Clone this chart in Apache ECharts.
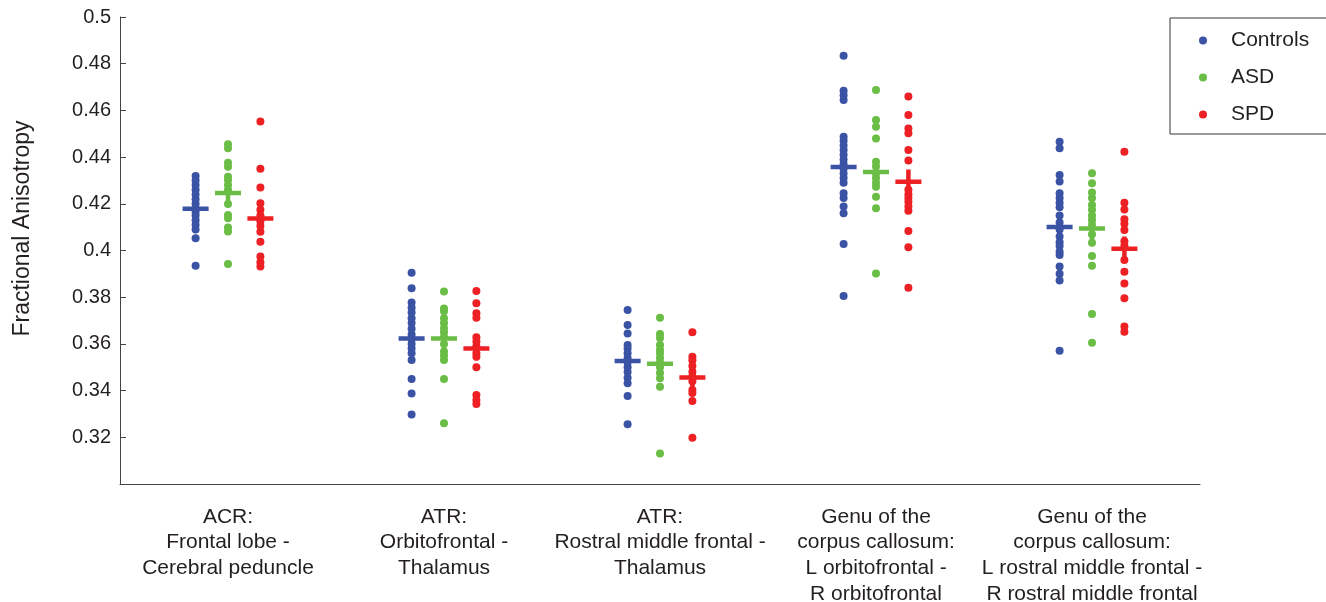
<!DOCTYPE html>
<html>
<head>
<meta charset="utf-8">
<script src="https://cdn.jsdelivr.net/npm/echarts@6/dist/echarts.min.js"></script>
<style>
html,body{margin:0;padding:0;background:#fff;}
#chart{width:1326px;height:602px;}
</style>
</head>
<body>
<div id="chart"></div>
<script>
const categories = [
  "ACR:\nFrontal lobe -\nCerebral peduncle",
  "ATR:\nOrbitofrontal -\nThalamus",
  "ATR:\nRostral middle frontal -\nThalamus",
  "Genu of the\ncorpus callosum:\nL orbitofrontal -\nR orbitofrontal",
  "Genu of the\ncorpus callosum:\nL rostral middle frontal -\nR rostral middle frontal"
];
const groupNames = ["Controls", "ASD", "SPD"];
const groupColors = ["#3a53a4", "#6abd45", "#ed2024"];
const groupOffsets = [-0.15, 0, 0.15];

const controlsValues = [
  [0.4319, 0.4300, 0.4280, 0.4260, 0.4240, 0.4220, 0.4200, 0.4180, 0.4165, 0.4150, 0.4130, 0.4110, 0.4090, 0.4052, 0.3935],
  [0.3905, 0.3838, 0.3777, 0.3755, 0.3735, 0.3710, 0.3690, 0.3665, 0.3640, 0.3620, 0.3600, 0.3580, 0.3560, 0.3531, 0.3450, 0.3388, 0.3298],
  [0.3745, 0.3681, 0.3645, 0.3595, 0.3580, 0.3560, 0.3540, 0.3520, 0.3500, 0.3480, 0.3455, 0.3431, 0.3377, 0.3256],
  [0.4834, 0.4684, 0.4665, 0.4645, 0.4487, 0.4470, 0.4450, 0.4430, 0.4410, 0.4390, 0.4370, 0.4350, 0.4330, 0.4310, 0.4290, 0.4245, 0.4225, 0.4188, 0.4159, 0.4028, 0.3805],
  [0.4466, 0.4438, 0.4323, 0.4295, 0.4245, 0.4225, 0.4205, 0.4185, 0.4150, 0.4120, 0.4090, 0.4060, 0.4035, 0.4019, 0.3995, 0.3981, 0.3931, 0.3900, 0.3871, 0.3571]
];
const asdValues = [
  [0.4455, 0.4438, 0.4376, 0.4359, 0.4316, 0.4302, 0.4280, 0.4259, 0.4199, 0.4152, 0.4138, 0.4098, 0.4081, 0.3942],
  [0.3824, 0.3752, 0.3740, 0.3710, 0.3690, 0.3667, 0.3650, 0.3630, 0.3600, 0.3567, 0.3550, 0.3531, 0.3450, 0.3260],
  [0.3712, 0.3642, 0.3625, 0.3595, 0.3575, 0.3560, 0.3540, 0.3520, 0.3500, 0.3475, 0.3453, 0.3417, 0.3131],
  [0.4687, 0.4559, 0.4530, 0.4480, 0.4380, 0.4360, 0.4330, 0.4310, 0.4290, 0.4273, 0.4230, 0.4181, 0.3902],
  [0.4331, 0.4288, 0.4248, 0.4225, 0.4195, 0.4175, 0.4150, 0.4131, 0.4110, 0.4070, 0.4033, 0.3976, 0.3935, 0.3728, 0.3605]
];
const spdValues = [
  [0.4552, 0.4350, 0.4270, 0.4202, 0.4175, 0.4150, 0.4125, 0.4105, 0.4080, 0.4038, 0.3974, 0.3950, 0.3931],
  [0.3827, 0.3774, 0.3731, 0.3712, 0.3628, 0.3610, 0.3590, 0.3560, 0.3545, 0.3500, 0.3381, 0.3360, 0.3343],
  [0.3650, 0.3545, 0.3530, 0.3505, 0.3481, 0.3460, 0.3440, 0.3403, 0.3390, 0.3355, 0.3198],
  [0.4659, 0.4580, 0.4523, 0.4502, 0.4430, 0.4385, 0.4260, 0.4240, 0.4225, 0.4209, 0.4188, 0.4170, 0.4084, 0.4014, 0.3841],
  [0.4423, 0.4205, 0.4176, 0.4134, 0.4115, 0.4088, 0.4040, 0.4020, 0.3959, 0.3909, 0.3859, 0.3795, 0.3674, 0.3652]
];
const controlsMeans = [0.4180, 0.3624, 0.3528, 0.4359, 0.4102];
const asdMeans = [0.4247, 0.3624, 0.3516, 0.4337, 0.4095];
const spdMeans = [0.4138, 0.3581, 0.3457, 0.4295, 0.4009];

const yTicks = { min: 0.30, max: 0.50, interval: 0.02 };

const allValues = [controlsValues, asdValues, spdValues];
const allMeans = [controlsMeans, asdMeans, spdMeans];

const font = "Liberation Sans";
const textColor = "#231f20";
const axisColor = "#444";
const crossPath = "path://M0,10 L26,10 L26,14.5 L0,14.5 Z M10.75,0 L15.25,0 L15.25,24 L10.75,24 Z";

const series = [];
groupNames.forEach((name, g) => {
  const pts = [];
  allValues[g].forEach((vals, c) => {
    vals.forEach(v => pts.push([c + 1 + groupOffsets[g], v]));
  });
  series.push({
    name: name,
    type: "scatter",
    xAxisIndex: 1,
    symbol: "circle",
    symbolSize: 8,
    itemStyle: { color: groupColors[g], opacity: 1 },
    data: pts,
    z: 2
  });
});
groupNames.forEach((name, g) => {
  series.push({
    name: name + " mean",
    type: "scatter",
    xAxisIndex: 1,
    symbol: crossPath,
    symbolSize: [26, 24],
    itemStyle: { color: groupColors[g], opacity: 1 },
    data: allMeans[g].map((m, c) => [c + 1 + groupOffsets[g], m]),
    z: 3
  });
});

const chart = echarts.init(document.getElementById("chart"));
chart.setOption({
  animation: false,
  backgroundColor: "#fff",
  textStyle: { fontFamily: font },
  grid: { left: 120, right: 126, top: 17, bottom: 118, containLabel: false, outerBoundsMode: "none" },
  legend: {
    data: groupNames,
    orient: "vertical",
    left: 1170,
    top: 18,
    padding: [12, 40, 9, 29],
    itemWidth: 8,
    itemHeight: 8,
    itemGap: 16,
    icon: "circle",
    borderColor: "#333",
    borderWidth: 1,
    textStyle: { fontFamily: font, fontSize: 21, color: textColor, padding: [0, 0, 0, 19] }
  },
  xAxis: [
    {
      type: "category",
      data: categories,
      boundaryGap: true,
      axisLine: { lineStyle: { color: axisColor, width: 1 } },
      axisTick: { inside: true, alignWithLabel: true, length: 11, lineStyle: { color: axisColor } },
      axisLabel: { fontFamily: font, fontSize: 21, color: textColor, lineHeight: 25.7, margin: 20, interval: 0 },
      splitLine: { show: false }
    },
    {
      type: "value",
      min: 0.5,
      max: 5.5,
      show: false
    }
  ],
  yAxis: {
    type: "value",
    min: yTicks.min,
    max: yTicks.max,
    interval: yTicks.interval,
    name: "Fractional Anisotropy",
    nameLocation: "middle",
    nameGap: 86,
    nameTextStyle: { fontFamily: font, fontSize: 23, color: textColor, padding: [0, 0, 0, 44] },
    axisLine: { show: true, lineStyle: { color: axisColor, width: 1 } },
    axisTick: { show: true, inside: true, length: 6, lineStyle: { color: axisColor } },
    splitLine: { show: false },
    axisLabel: {
      fontFamily: font, fontSize: 20, color: textColor, margin: 9, padding: [3, 0, 0, 0],
      formatter: v => (Math.abs(v - yTicks.min) < 1e-9 ? "" : String(parseFloat(v.toFixed(2))))
    }
  },
  series: series
});
</script>
</body>
</html>
